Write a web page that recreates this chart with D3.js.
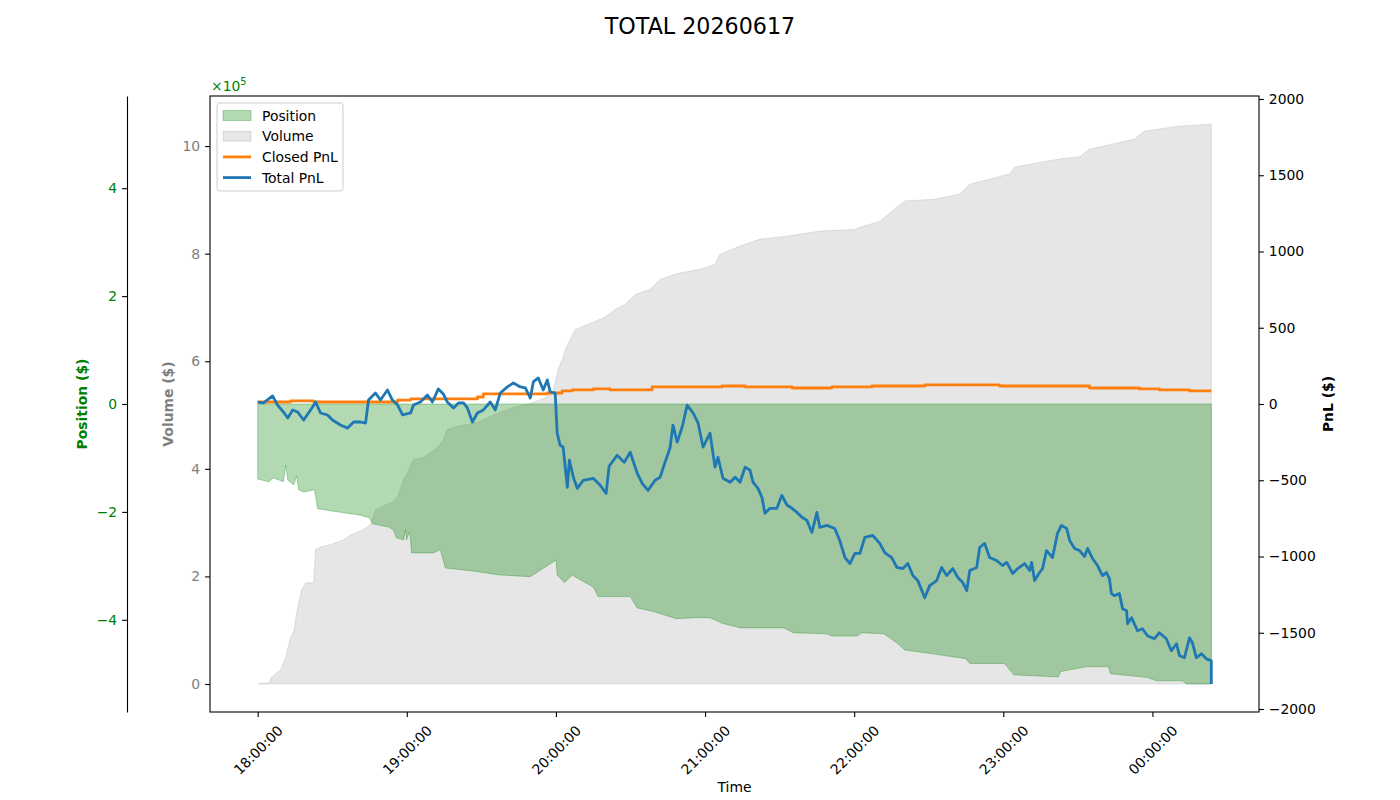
<!DOCTYPE html>
<html>
<head>
<meta charset="utf-8">
<script src="https://cdn.jsdelivr.net/npm/d3@7"></script>
<style>
body { margin: 0; background: #fff; }
svg text { font-family: "DejaVu Sans", sans-serif; }
</style>
</head>
<body>
<div id="chart"></div>
<script>
// session: 18:00 on 2026-06-17, times are minutes after start
const chartTitle = "TOTAL 20260617";
const startTime = new Date(2026, 5, 17, 18, 0, 0);

const timeTicks = ["18:00:00", "19:00:00", "20:00:00", "21:00:00", "22:00:00", "23:00:00", "00:00:00"];
const volumeTicks = [0, 200000, 400000, 600000, 800000, 1000000];
const positionTicks = [-400000, -200000, 0, 200000, 400000];
const pnlTicks = [-2000, -1500, -1000, -500, 0, 500, 1000, 1500, 2000];

const pnlTime = [0,2.4,6.0,8.0,10.4,12.1,14.1,16.1,18.5,22.1,23.3,25.3,28.1,30.1,33.3,36.2,38.6,41.4,43.4,44.6,
  47.4,49.4,52.2,54.2,56.3,58.3,61.5,62.7,65.5,68.3,70.3,72.7,74.7,76.3,78.8,80.8,82.8,84.4,86.4,88.4,
  90.8,93.6,95.6,97.6,100.5,102.9,105.7,107.7,109.7,110.9,112.9,114.9,116.5,117.7,119.7,120.5,121.7,122.9,124.6,125.4,
  127.0,128.6,131.0,135.0,137.8,140.2,141.4,144.6,147.5,149.9,152.7,154.7,157.1,159.9,161.9,163.9,165.9,167.1,168.8,170.8,
  172.8,175.2,177.2,179.2,182.0,184.0,185.2,187.2,190.1,192.1,194.1,196.1,198.1,199.3,201.3,202.9,204.1,206.1,208.9,210.9,
  213.0,215.0,217.0,219.0,221.0,223.0,225.0,226.2,229.0,232.2,234.2,236.3,238.3,240.3,242.3,244.3,247.5,250.3,252.3,255.1,
  257.2,259.6,261.6,263.6,265.6,268.4,270.4,273.2,275.2,277.2,279.7,281.7,283.7,285.3,286.5,289.3,290.5,292.5,294.5,297.3,
  299.7,301.4,303.8,305.8,308.6,310.6,311.4,312.6,314.6,315.8,317.4,319.8,321.8,323.4,325.5,326.7,328.7,330.7,332.7,333.9,
  335.9,337.9,339.9,341.5,342.7,343.5,344.7,346.7,348.0,349.6,350.0,351.6,354.0,356.0,358.0,360.8,362.8,365.6,367.6,369.7,
  370.9,372.9,374.9,376.1,377.7,379.7,381.7,383.7,383.7];
const totalPnl = [13,7,53,-7,-53,-92,-39,-53,-105,-20,13,-59,-72,-105,-138,-158,-118,-118,-125,26,
  72,26,92,26,-7,-72,-59,-7,13,59,13,99,66,13,-26,7,7,-26,-118,-59,
  -39,13,-39,72,112,138,112,105,39,145,171,92,158,79,72,-191,-270,-283,-546,-368,
  -480,-553,-500,-487,-533,-586,-408,-336,-382,-316,-454,-520,-566,-500,-480,-382,-289,-138,-250,-151,
  -7,-59,-125,-283,-191,-414,-349,-487,-513,-480,-513,-414,-434,-513,-553,-612,-717,-684,-684,-599,
  -664,-684,-711,-743,-763,-842,-711,-809,-796,-816,-895,-1007,-1046,-980,-980,-875,-862,-914,-974,-1007,
  -1072,-1079,-1046,-1125,-1158,-1270,-1191,-1158,-1072,-1125,-1079,-1138,-1171,-1224,-1092,-1072,-941,-914,-1007,-1026,
  -1059,-1039,-1112,-1079,-1046,-1092,-1039,-1158,-1105,-1079,-961,-1007,-849,-796,-816,-895,-947,-961,-1000,-947,
  -1013,-1059,-1125,-1105,-1145,-1243,-1257,-1243,-1342,-1355,-1441,-1401,-1487,-1474,-1520,-1539,-1500,-1539,-1618,-1572,
  -1651,-1664,-1533,-1566,-1664,-1638,-1671,-1684,-1836];

const closedTime = [0,13.3,22.5,56.3,61.5,88.4,90.8,116.5,122.5,126.6,135.0,141.8,158.7,186.8,196.1,215.0,231.0,247.1,268.4,298.5,334.7,354.8,362.8,374.9,383.7];
const closedPnl = [13,20,13,26,33,46,66,72,86,92,99,92,112,118,112,105,112,118,125,118,105,99,92,86,86];

const positionTime = [0,4.4,6.4,10.4,11.3,12.1,14.5,15.7,16.5,18.5,22.9,24.1,29.3,35.4,41.4,45.0,46.2,52.6,54.6,55.8,
  58.7,59.5,59.9,61.1,61.5,61.9,70.7,73.5,75.5,85.6,97.6,109.7,120.1,120.5,123.4,126.6,129.8,135.0,137.0,149.9,
  152.7,159.5,168.4,176.8,182.0,187.2,194.5,211.7,215.4,229.0,231.0,241.1,243.1,251.9,257.2,260.4,274.4,284.9,286.5,300.5,
  304.2,322.2,323.0,333.5,342.3,343.1,358.0,361.6,372.1,373.7,383.7];
const positionValue = [-139000,-144000,-137000,-144000,-113000,-141000,-150000,-133000,-159000,-163000,-159000,-194000,-198000,-202000,-206000,-211000,-222000,-228000,-233000,-248000,
  -252000,-233000,-252000,-237000,-252000,-276000,-276000,-270000,-304000,-309000,-317000,-320000,-289000,-317000,-331000,-317000,-326000,-339000,-357000,-357000,
  -378000,-385000,-398000,-396000,-396000,-407000,-415000,-415000,-424000,-426000,-430000,-430000,-424000,-426000,-443000,-456000,-465000,-472000,-481000,-481000,
  -502000,-506000,-496000,-487000,-487000,-500000,-507000,-513000,-513000,-519000,-519000];

const volumeTime = [0,4.4,5.6,9.2,11.3,13.3,14.5,16.1,17.7,19.3,22.5,23.3,25.3,29.3,34.6,37.4,42.6,45.4,47.4,54.6,
  56.3,58.7,60.3,62.7,66.7,72.3,74.7,76.3,80.4,88.4,97.6,104.5,109.7,116.5,118.9,120.9,122.5,123.8,125.8,127.8,
  135.8,139.8,143.8,147.9,151.9,157.9,161.9,167.9,178.0,184.0,186.0,194.1,202.1,212.1,218.2,226.2,240.3,242.3,250.3,256.3,
  260.4,272.4,282.5,286.5,302.6,304.6,322.6,330.7,334.7,352.8,356.8,370.9,383.7];
const volumeValue = [0,2000,13000,26000,50000,88000,97000,143000,175000,188000,188000,250000,255000,259000,268000,277000,287000,296000,324000,339000,
  348000,380000,393000,417000,421000,439000,454000,473000,479000,486000,505000,516000,521000,534000,544000,585000,603000,622000,641000,659000,
  674000,682000,696000,706000,724000,734000,752000,762000,771000,780000,799000,814000,827000,832000,836000,842000,845000,849000,860000,883000,
  898000,901000,911000,929000,948000,961000,976000,980000,994000,1013000,1028000,1037000,1041000];

const legendItems = [
  { label: "Position", kind: "patch", color: "green", alpha: 0.3 },
  { label: "Volume", kind: "patch", color: "gray", alpha: 0.2 },
  { label: "Closed PnL", kind: "line", color: "#ff7f0e" },
  { label: "Total PnL", kind: "line", color: "#1f77b4" }
];

const W = 1400, H = 800;
const plot = { left: 210, right: 1259, top: 96, bottom: 712 };
const fs = 13.9;
const tickLen = 4.9, tickPad = 4.9;

const at = m => new Date(startTime.getTime() + m * 60000);
const parseClock = s => {
  const [h, m, sec] = s.split(":").map(Number);
  return at(((h - 18 + 24) % 24) * 60 + m + sec / 60);
};

const zip = (ts, vs) => ts.map((t, i) => ({ t: at(t), v: vs[i] }));
const totalData = zip(pnlTime, totalPnl);
const closedData = zip(closedTime, closedPnl);
const positionData = zip(positionTime, positionValue);
const volumeData = zip(volumeTime, volumeValue);

const svg = d3.select("#chart").append("svg").attr("width", W).attr("height", H);

// x scale with matplotlib-like 5% margins
const tMin = d3.min(pnlTime), tMax = d3.max(pnlTime);
const tPad = (tMax - tMin) * 0.05;
const x = d3.scaleTime().domain([at(tMin - tPad), at(tMax + tPad)]).range([plot.left, plot.right]);

const vMax = d3.max(volumeValue);
const yVol = d3.scaleLinear().domain([-vMax * 0.05, vMax * 1.05]).range([plot.bottom, plot.top]);
const pLim = d3.max(positionValue, d => Math.abs(d)) * 1.1;
const yPos = d3.scaleLinear().domain([-pLim, pLim]).range([plot.bottom, plot.top]);
const pnlLim = d3.max(totalPnl.concat(closedPnl), d => Math.abs(d)) * 1.1;
const yPnl = d3.scaleLinear().domain([-pnlLim, pnlLim]).range([plot.bottom, plot.top]);

// fills
const volArea = d3.area().x(d => x(d.t)).y0(yVol(0)).y1(d => yVol(d.v));
svg.append("path").datum(volumeData)
  .attr("d", volArea)
  .attr("fill", "gray").attr("fill-opacity", 0.2)
  .attr("stroke", "gray").attr("stroke-opacity", 0.2).attr("stroke-width", 1);

const posArea = d3.area().x(d => x(d.t)).y0(yPos(0)).y1(d => yPos(d.v));
svg.append("path").datum(positionData)
  .attr("d", posArea)
  .attr("fill", "green").attr("fill-opacity", 0.3)
  .attr("stroke", "green").attr("stroke-opacity", 0.3).attr("stroke-width", 1);

// pnl lines
svg.append("path").datum(closedData)
  .attr("d", d3.line().x(d => x(d.t)).y(d => yPnl(d.v)).curve(d3.curveStepAfter))
  .attr("fill", "none").attr("stroke", "#ff7f0e").attr("stroke-width", 2.8)
  .attr("stroke-linejoin", "round");

svg.append("path").datum(totalData)
  .attr("d", d3.line().x(d => x(d.t)).y(d => yPnl(d.v)))
  .attr("fill", "none").attr("stroke", "#1f77b4").attr("stroke-width", 2.8)
  .attr("stroke-linejoin", "round");

// axes
function styleAxis(g, color) {
  g.selectAll(".tick line").attr("stroke", "#000").attr("stroke-width", 1.1);
  g.selectAll(".tick text").attr("fill", color).style("font-size", fs + "px");
}

const xAxis = svg.append("g")
  .attr("transform", `translate(0,${plot.bottom})`)
  .call(d3.axisBottom(x).tickValues(timeTicks.map(parseClock)).tickFormat(d3.timeFormat("%H:%M:%S"))
    .tickSize(tickLen).tickSizeOuter(0));
xAxis.select(".domain").remove();
styleAxis(xAxis, "#000");
xAxis.selectAll(".tick text")
  .attr("y", null).attr("dy", null)
  .attr("text-anchor", "middle")
  .attr("dominant-baseline", "central")
  .attr("transform", "translate(0,38) rotate(-45)");

const volAxis = svg.append("g")
  .attr("transform", `translate(${plot.left},0)`)
  .call(d3.axisLeft(yVol).tickValues(volumeTicks).tickFormat(d => d3.format("d")(d / 1e5))
    .tickSize(tickLen).tickPadding(tickPad).tickSizeOuter(0));
volAxis.select(".domain").remove();
styleAxis(volAxis, "#808080");

const posAxis = svg.append("g")
  .attr("transform", "translate(127,0)")
  .call(d3.axisLeft(yPos).tickValues(positionTicks).tickFormat(d => d3.format("d")(d / 1e5))
    .tickSize(tickLen).tickPadding(tickPad).tickSizeOuter(0));
posAxis.select(".domain").attr("stroke", "#000").attr("stroke-width", 1.1);
styleAxis(posAxis, "green");

const pnlAxis = svg.append("g")
  .attr("transform", `translate(${plot.right},0)`)
  .call(d3.axisRight(yPnl).tickValues(pnlTicks).tickFormat(d3.format("d"))
    .tickSize(tickLen).tickPadding(tickPad).tickSizeOuter(0));
pnlAxis.select(".domain").remove();
styleAxis(pnlAxis, "#000");

// spines
svg.append("rect")
  .attr("x", plot.left).attr("y", plot.top)
  .attr("width", plot.right - plot.left).attr("height", plot.bottom - plot.top)
  .attr("fill", "none").attr("stroke", "#000").attr("stroke-width", 1.1);

// offset text
const offset = svg.append("text").attr("x", plot.left + 1).attr("y", 91)
  .attr("fill", "green").style("font-size", fs + "px");
offset.append("tspan").text("×10");
offset.append("tspan").attr("dy", -6).style("font-size", "9.7px").text("5");

// labels
svg.append("text").attr("x", W / 2).attr("y", 34).attr("text-anchor", "middle")
  .style("font-size", "22.2px").text(chartTitle);

svg.append("text").attr("x", (plot.left + plot.right) / 2).attr("y", 792)
  .attr("text-anchor", "middle").style("font-size", fs + "px").text("Time");

const midY = (plot.top + plot.bottom) / 2;
[["Position ($)", 82, "green"], ["Volume ($)", 168, "gray"], ["PnL ($)", 1328, "#000"]].forEach(([t, cx, c]) => {
  svg.append("text")
    .attr("transform", `translate(${cx},${midY}) rotate(-90)`)
    .attr("text-anchor", "middle").attr("dominant-baseline", "central")
    .attr("fill", c).style("font-size", fs + "px").style("font-weight", "bold")
    .text(t);
});

// legend
const lg = svg.append("g").attr("transform", "translate(217,103)");
lg.append("rect").attr("width", 126).attr("height", 88).attr("rx", 3)
  .attr("fill", "#fff").attr("fill-opacity", 0.8).attr("stroke", "#cccccc").attr("stroke-width", 1);
legendItems.forEach((item, i) => {
  const cy = 12.5 + i * 20.7;
  if (item.kind === "patch") {
    lg.append("rect").attr("x", 6).attr("y", cy - 5).attr("width", 28).attr("height", 10)
      .attr("fill", item.color).attr("fill-opacity", item.alpha)
      .attr("stroke", item.color).attr("stroke-opacity", item.alpha);
  } else {
    lg.append("line").attr("x1", 6).attr("x2", 34).attr("y1", cy).attr("y2", cy)
      .attr("stroke", item.color).attr("stroke-width", 2.8);
  }
  lg.append("text").attr("x", 45).attr("y", cy).attr("dominant-baseline", "central")
    .style("font-size", fs + "px").text(item.label);
});
</script>
</body>
</html>
